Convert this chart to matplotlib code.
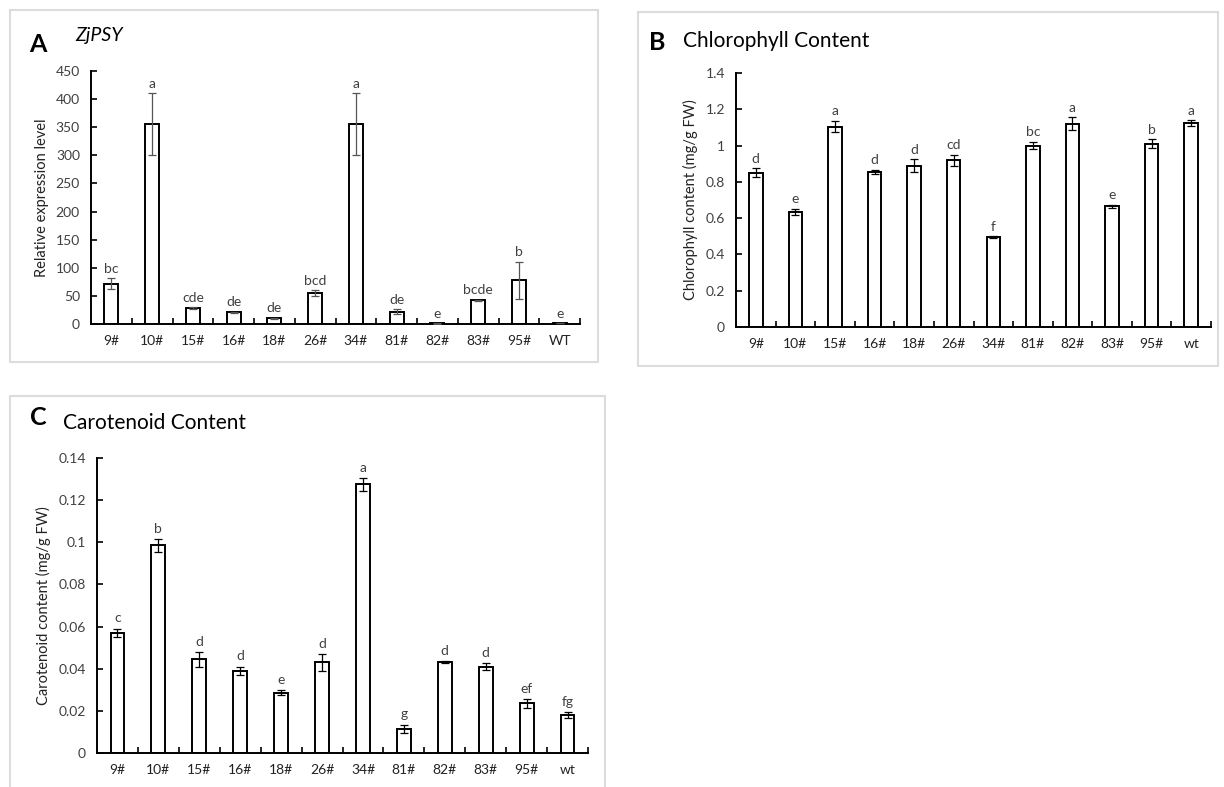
import matplotlib.pyplot as plt
from matplotlib.patches import Rectangle
import numpy as np

plt.rcParams['font.family'] = ['Lato', 'DejaVu Sans']

lines_a = ["9#", "10#", "15#", "16#", "18#", "26#", "34#", "81#", "82#", "83#", "95#", "WT"]
lines_bc = ["9#", "10#", "15#", "16#", "18#", "26#", "34#", "81#", "82#", "83#", "95#", "wt"]

# A: relative expression of ZjPSY
expr = [72, 355, 28, 21, 10, 55, 355, 22, 1, 42, 78, 1]
expr_err = [10, 55, 2, 1, 1, 5, 55, 4, 0.5, 1, 33, 0]
expr_sig = ["bc", "a", "cde", "de", "de", "bcd", "a", "de", "e", "bcde", "b", "e"]

# B: chlorophyll content
chl = [0.85, 0.635, 1.105, 0.855, 0.89, 0.92, 0.495, 1.0, 1.12, 0.665, 1.01, 1.125]
chl_err = [0.025, 0.015, 0.03, 0.012, 0.035, 0.03, 0.005, 0.02, 0.035, 0.008, 0.025, 0.015]
chl_sig = ["d", "e", "a", "d", "d", "cd", "f", "bc", "a", "e", "b", "a"]

# C: carotenoid content
car = [0.057, 0.0985, 0.0445, 0.039, 0.0285, 0.043, 0.1275, 0.0115, 0.043, 0.041, 0.0235, 0.018]
car_err = [0.002, 0.003, 0.0035, 0.002, 0.0012, 0.004, 0.003, 0.002, 0.0005, 0.0018, 0.002, 0.0015]
car_sig = ["c", "b", "d", "d", "e", "d", "a", "g", "d", "d", "ef", "fg"]

W, H = 1224, 787
fig = plt.figure(figsize=(W / 100, H / 100), dpi=100)


def px_axes(x0, x1, ytop, ybot):
    return fig.add_axes([x0 / W, 1 - ybot / H, (x1 - x0) / W, (ybot - ytop) / H])


def frame(x0, y0, x1, y1):
    fig.patches.append(Rectangle((x0 / W, 1 - y1 / H), (x1 - x0) / W, (y1 - y0) / H,
                                 transform=fig.transFigure, fill=False,
                                 edgecolor="#dcdcdc", lw=1.5))


def panel(ax, labels, vals, errs, sig, ymax, step, fmt, ylabel, ecolor, pad):
    x = np.arange(len(labels))
    ax.bar(x, vals, width=0.34, color="white", edgecolor="black", lw=1.4, zorder=2)
    ax.errorbar(x, vals, yerr=errs, fmt="none", ecolor=ecolor, elinewidth=0.9,
                capsize=3, capthick=0.9, zorder=3)
    for xi, v, e, s in zip(x, vals, errs, sig):
        ax.text(xi, v + e + pad, s, ha="center", va="bottom", fontsize=10, color="#404040")
    ax.set_xlim(-0.5, len(labels) - 0.5)
    ax.set_ylim(0, ymax)
    ticks = np.arange(0, ymax + step / 2, step)
    ax.set_yticks(ticks)
    ax.set_yticklabels([fmt(t) for t in ticks], fontsize=10, color="#404040")
    ax.set_xticks(x)
    ax.set_xticklabels(labels, fontsize=10, color="#222222")
    ax.set_xticks(np.arange(0.5, len(labels) - 0.5 + 0.01, 1), minor=True)
    ax.tick_params(axis="x", which="major", length=0, pad=8)
    ax.tick_params(axis="x", which="minor", direction="in", length=4, width=1.2)
    ax.tick_params(axis="y", direction="in", length=4, width=1.2, pad=8)
    for side in ["top", "right"]:
        ax.spines[side].set_visible(False)
    ax.spines["left"].set_linewidth(1.4)
    ax.spines["bottom"].set_linewidth(1.4)
    ax.set_ylabel(ylabel, fontsize=10.5, color="#222222", labelpad=5)


def fmt_num(t):
    s = f"{t:.2f}".rstrip("0").rstrip(".")
    return s


frame(10, 10, 598, 362)
frame(638, 12, 1218, 366)
frame(10, 396, 605, 800)

ax_a = px_axes(91, 580, 71, 324)
panel(ax_a, lines_a, expr, expr_err, expr_sig, 450, 50, lambda t: f"{t:.0f}",
      "Relative expression level", "#555555", 6)
ax_b = px_axes(736, 1211, 73, 327)
panel(ax_b, lines_bc, chl, chl_err, chl_sig, 1.4, 0.2, fmt_num,
      "Chlorophyll content (mg/g FW)", "black", 0.02)
ax_c = px_axes(97, 588, 458, 753)
panel(ax_c, lines_bc, car, car_err, car_sig, 0.14, 0.02, fmt_num,
      "Carotenoid content (mg/g FW)", "black", 0.002)

fig.text(29 / W, 1 - 45 / H, "A", fontsize=18, fontweight="bold", va="center")
fig.text(75 / W, 1 - 36 / H, "ZjPSY", fontsize=14, style="italic", va="center")
fig.text(649 / W, 1 - 43 / H, "B", fontsize=18, fontweight="bold", va="center")
fig.text(683 / W, 1 - 41 / H, "Chlorophyll Content", fontsize=15, va="center")
fig.text(30 / W, 1 - 418 / H, "C", fontsize=18, fontweight="bold", va="center")
fig.text(63 / W, 1 - 423 / H, "Carotenoid Content", fontsize=15, va="center")

fig.savefig("out.png", dpi=100)
